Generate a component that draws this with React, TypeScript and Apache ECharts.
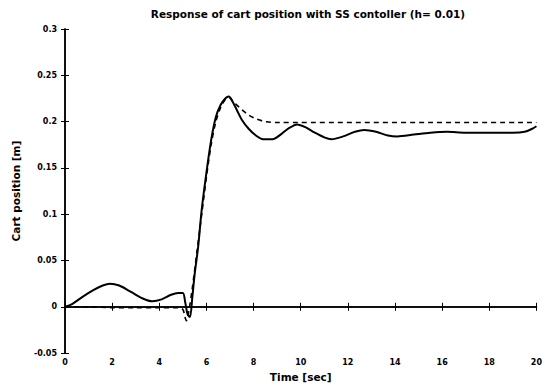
import React, { useEffect, useRef } from "react";
import * as echarts from "echarts";

const titleText = "Response of cart position with SS contoller (h= 0.01)";
const xName = "Time [sec]";
const yName = "Cart position [m]";

const timeSolid = [0, 0.3, 0.7, 1.2, 1.6, 1.9, 2.3, 2.8, 3.3, 3.7, 4.1, 4.5, 4.8, 5.0, 5.1, 5.2, 5.3, 5.4, 5.5, 5.65, 5.8, 6.0, 6.2, 6.4, 6.6, 6.8, 6.95, 7.1, 7.3, 7.5, 7.8, 8.1, 8.4, 8.8, 9.2, 9.5, 9.85, 10.2, 10.6, 11.0, 11.3, 11.8, 12.3, 12.7, 13.2, 13.7, 14.1, 14.8, 15.5, 16.2, 17, 18, 19, 19.5, 19.8, 20];
const posSolid = [0, 0.003, 0.01, 0.018, 0.023, 0.025, 0.023, 0.016, 0.009, 0.006, 0.008, 0.013, 0.015, 0.015, 0.005, -0.008, -0.011, 0.01, 0.035, 0.065, 0.105, 0.145, 0.18, 0.205, 0.218, 0.225, 0.227, 0.222, 0.212, 0.202, 0.192, 0.185, 0.181, 0.181, 0.187, 0.193, 0.197, 0.194, 0.188, 0.183, 0.181, 0.184, 0.189, 0.191, 0.189, 0.185, 0.184, 0.186, 0.188, 0.189, 0.188, 0.188, 0.188, 0.189, 0.192, 0.195];

const timeRef = [0, 1, 2, 3, 4, 4.8, 5.0, 5.1, 5.15, 5.25, 5.4, 5.6, 5.8, 6.0, 6.2, 6.4, 6.6, 6.8, 6.95, 7.2, 7.5, 7.8, 8.1, 8.5, 9, 20];
const posRef = [0, 0, -0.001, -0.001, -0.001, -0.001, -0.003, -0.012, -0.015, -0.005, 0.02, 0.06, 0.1, 0.14, 0.175, 0.2, 0.215, 0.224, 0.226, 0.22, 0.213, 0.207, 0.203, 0.2, 0.199, 0.199];

const xTicks = { min: 0, max: 20, interval: 2 };
const yTicks = { min: -0.05, max: 0.3, interval: 0.05 };

export default function App() {
  const ref = useRef<HTMLDivElement>(null);
  useEffect(() => {
    if (!ref.current) return;
    const chart = echarts.init(ref.current, null, { renderer: "svg" });
    const font = "DejaVu Sans";
    const lbl = { color: "#000", fontSize: 8, fontWeight: "bold" as const, fontFamily: font };
    const nameLbl = { color: "#000", fontSize: 10.5, fontWeight: "bold" as const, fontFamily: font };
    const axisLine = { show: true, lineStyle: { color: "#000", width: 1.5 } };
    const tick = { show: true, inside: true, length: 4, lineStyle: { color: "#000", width: 1 } };
    chart.setOption({
      animation: false,
      backgroundColor: "#fff",
      title: {
        text: titleText,
        left: 303,
        textAlign: "center",
        top: 3,
        textStyle: { color: "#000", fontSize: 10.5, fontWeight: "bold", fontFamily: font },
      },
      grid: { left: 65, right: 3, top: 29, bottom: 33, containLabel: false },
      xAxis: [
        {
          type: "value",
          min: xTicks.min,
          max: xTicks.max,
          interval: xTicks.interval,
          name: xName,
          nameLocation: "middle",
          nameGap: 17,
          nameTextStyle: nameLbl,
          axisLine,
          axisTick: tick,
          axisLabel: { ...lbl, margin: 5 },
          splitLine: { show: false },
        },
        {
          type: "value",
          position: "top",
          min: xTicks.min,
          max: xTicks.max,
          interval: xTicks.interval,
          axisLine,
          axisTick: tick,
          axisLabel: { show: false },
          splitLine: { show: false },
        },
      ],
      yAxis: [
        {
          type: "value",
          min: yTicks.min,
          max: yTicks.max,
          interval: yTicks.interval,
          name: yName,
          nameLocation: "middle",
          nameGap: 44,
          nameTextStyle: nameLbl,
          axisLine,
          axisTick: tick,
          axisLabel: { ...lbl, margin: 8 },
          splitLine: { show: false },
        },
        {
          type: "value",
          position: "right",
          min: yTicks.min,
          max: yTicks.max,
          interval: yTicks.interval,
          axisLine,
          axisTick: tick,
          axisLabel: { show: false },
          splitLine: { show: false },
        },
      ],
      series: [
        {
          type: "line",
          data: timeRef.map((t, i) => [t, posRef[i]]),
          showSymbol: false,
          smooth: 0.3,
          lineStyle: { color: "#000", width: 1.6, type: [5, 4] },
        },
        {
          type: "line",
          data: timeSolid.map((t, i) => [t, posSolid[i]]),
          showSymbol: false,
          smooth: 0.3,
          lineStyle: { color: "#000", width: 2 },
        },
      ],
    });
    return () => chart.dispose();
  }, []);
  return <div ref={ref} style={{ width: 545, height: 387, position: "absolute", left: 0, top: 0 }} />;
}
